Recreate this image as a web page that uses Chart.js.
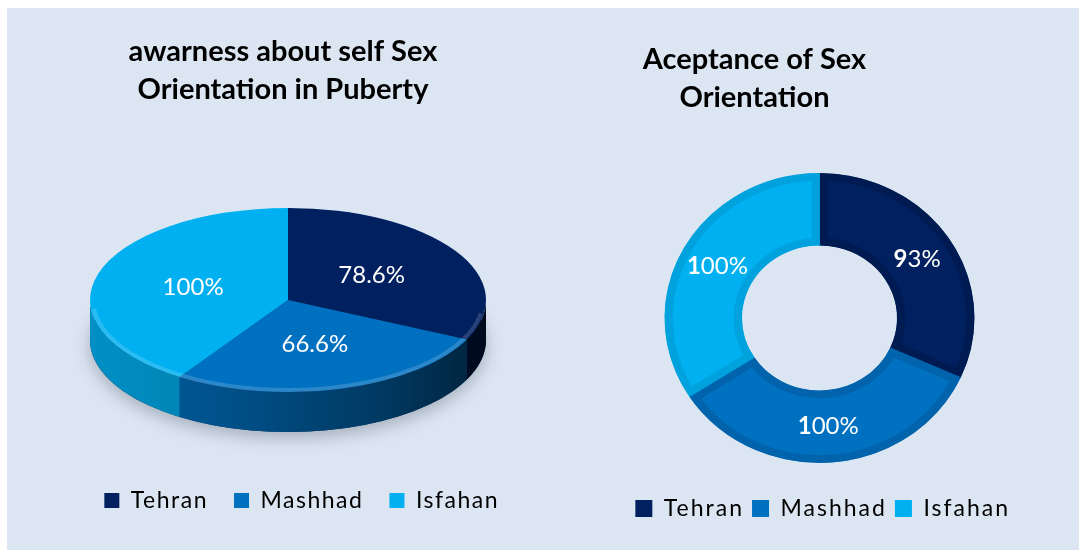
<!DOCTYPE html>
<html><head><meta charset="utf-8">
<script src="https://cdn.jsdelivr.net/npm/chart.js@4.4.1/dist/chart.umd.min.js"></script>
<style>
html,body{margin:0;padding:0;background:#fff;width:1079px;height:551px;overflow:hidden;}
#bg{position:absolute;left:7px;top:8px;width:1072px;height:542px;background:#dce6f2;}
#c1{position:absolute;left:34px;top:0;}
#c2{position:absolute;left:484px;top:0;}
</style></head><body>
<div id="bg"><canvas id="c1" width="488" height="542"></canvas><canvas id="c2" width="532" height="542"></canvas></div>
<script>
// ---- data ----
const cities = ['Tehran', 'Mashhad', 'Isfahan'];
const awarenessValues = [78.6, 66.6, 100];
const acceptanceValues = [93, 100, 100];
const awarenessTitle = ['awarness about self Sex', 'Orientation in Puberty'];
const acceptanceTitle = ['Aceptance of Sex', 'Orientation'];
// ---- styles ----
const cityColors = ['#002060', '#0070c0', '#00b0f0'];
const cityBandColors = ['#001a52', '#0063ab', '#00a2de'];

function shade(hex, f) {
  const n = parseInt(hex.slice(1), 16);
  const r = (n >> 16) & 255, g = (n >> 8) & 255, b = n & 255;
  return 'rgb(' + Math.round(r * f) + ',' + Math.round(g * f) + ',' + Math.round(b * f) + ')';
}

const tilt = {
  id: 'tilt',
  afterInit(chart, args, o) {
    const lg = chart.legend;
    if (!lg || lg._spaced) return;
    ['fit', 'draw'].forEach(m => {
      const f = lg[m];
      lg[m] = function (...a) {
        const ctx = this.ctx; const p = ctx.letterSpacing;
        ctx.letterSpacing = o.legendSpacing || '0px';
        const r = f.apply(this, a);
        ctx.letterSpacing = p || '0px';
        return r;
      };
    });
    lg._spaced = true;
  },
  beforeDatasetsDraw(chart, args, o) {
    const ctx = chart.ctx;
    const meta = chart.getDatasetMeta(0);
    const a0 = meta.data[0];
    const cx = a0.x, cy = a0.y, R = a0.outerRadius;
    const X = cx + (o.dx || 0), Y = cy + (o.dy || 0), k = o.k || 1, depth = o.depth || 0;
    if (depth > 0) {
      ctx.save();
      ctx.shadowColor = 'rgba(40,50,70,0.3)';
      ctx.shadowBlur = 16; ctx.shadowOffsetY = 6;
      ctx.fillStyle = '#1a3050';
      ctx.beginPath();
      ctx.ellipse(X, Y + depth, R, R * k, 0, 0, Math.PI * 2);
      ctx.fill();
      ctx.restore();
      ctx.save();
      meta.data.forEach((arc, i) => {
        const s = arc.startAngle, e = arc.endAngle;
        const col = cityColors[i];
        [-2 * Math.PI, 0, 2 * Math.PI].forEach(off => {
          const lo = Math.max(s, off), hi = Math.min(e, off + Math.PI);
          if (hi <= lo) return;
          const g = ctx.createLinearGradient(X - R, 0, X + R, 0);
          g.addColorStop(0, shade(col, 0.82));
          g.addColorStop(0.3, shade(col, 0.74));
          g.addColorStop(0.75, shade(col, 0.5));
          g.addColorStop(1, shade(col, 0.3));
          ctx.fillStyle = g;
          ctx.beginPath();
          ctx.ellipse(X, Y, R, R * k, 0, lo, hi, false);
          ctx.lineTo(X + R * Math.cos(hi), Y + R * k * Math.sin(hi) + depth);
          ctx.ellipse(X, Y + depth, R, R * k, 0, hi, lo, true);
          ctx.closePath();
          ctx.fill();
        });
      });
      ctx.restore();
    }
    ctx.save();
    ctx.translate(X, Y);
    ctx.scale(1, k);
    ctx.translate(-cx, -cy);
  },
  afterDatasetsDraw(chart, args, o) {
    const ctx = chart.ctx;
    ctx.restore();
    const meta = chart.getDatasetMeta(0);
    const a0 = meta.data[0];
    const X = a0.x + (o.dx || 0), Y = a0.y + (o.dy || 0), k = o.k || 1, R = a0.outerRadius;
    if ((o.depth || 0) > 0) {
      // soft bevel highlight on the front rim of the top face
      ctx.save();
      ctx.strokeStyle = 'rgba(255,255,255,0.16)';
      ctx.lineWidth = 4;
      ctx.beginPath();
      ctx.ellipse(X, Y, R - 3, R * k - 2, 0, 0.15, Math.PI * 0.97);
      ctx.stroke();
      ctx.restore();
    }
    const vals = chart.data.datasets[0].data;
    ctx.save();
    ctx.fillStyle = '#fff';
    ctx.textAlign = 'left';
    ctx.textBaseline = 'middle';
    ctx.letterSpacing = o.labelSpacing || '0px';
    meta.data.forEach((arc, i) => {
      const mid = (arc.startAngle + arc.endAngle) / 2;
      const r = arc.innerRadius + (arc.outerRadius - arc.innerRadius) * o.labelPos;
      const x = X + r * Math.cos(mid), y = Y + r * k * Math.sin(mid);
      const txt = vals[i] + '%';
      const parts = o.boldFirst ? [[txt[0], 'bold'], [txt.slice(1), 'normal']] : [[txt, 'normal']];
      let w = 0;
      parts.forEach(p => { ctx.font = p[1] + ' ' + o.fontSize + 'px Lato'; w += ctx.measureText(p[0]).width; });
      let px = x - w / 2;
      parts.forEach(p => {
        ctx.font = p[1] + ' ' + o.fontSize + 'px Lato';
        ctx.fillText(p[0], px, y);
        px += ctx.measureText(p[0]).width;
      });
    });
    ctx.restore();
  }
};

function legendLabels(chart) {
  return chart.data.labels.map((t, i) => ({
    text: t, fillStyle: cityColors[i], strokeStyle: cityColors[i], lineWidth: 0,
    hidden: false, index: i, fontColor: '#000'
  }));
}

new Chart(document.getElementById('c1'), {
  type: 'pie',
  data: {
    labels: cities,
    datasets: [{ data: awarenessValues, backgroundColor: cityColors, borderWidth: 0, clip: false, hoverOffset: 0 }]
  },
  options: {
    responsive: false, animation: false, events: [],
    radius: 198,
    layout: { padding: { bottom: 28, right: 4 } },
    plugins: {
      title: {
        display: true, text: awarenessTitle, color: '#000',
        font: { family: 'Lato', size: 29, weight: 'bold', lineHeight: 38 / 29 },
        padding: { top: 25, bottom: 0 }
      },
      legend: {
        position: 'bottom', align: 'end',
        labels: { font: { family: 'Lato', size: 23 }, color: '#000', boxWidth: 15, boxHeight: 15, padding: 26, generateLabels: legendLabels }
      },
      tooltip: { enabled: false },
      tilt: { k: 0.465, depth: 40, dx: 5, dy: 14, labelPos: 0.5, fontSize: 24, boldFirst: false, legendSpacing: '1.5px' }
    }
  },
  plugins: [tilt]
});

new Chart(document.getElementById('c2'), {
  type: 'doughnut',
  data: {
    labels: cities,
    datasets: [{ data: acceptanceValues, backgroundColor: cityColors, borderColor: cityBandColors, borderWidth: 8, borderAlign: 'inner', clip: false, hoverOffset: 0 }]
  },
  options: {
    responsive: false, animation: false, events: [],
    radius: 155, cutout: '50%',
    layout: { padding: { bottom: 20, right: 5 } },
    plugins: {
      title: {
        display: true, text: acceptanceTitle, color: '#000',
        font: { family: 'Lato', size: 29, weight: 'bold', lineHeight: 38 / 29 },
        padding: { top: 33, bottom: 0 }
      },
      legend: {
        position: 'bottom', align: 'end',
        labels: { font: { family: 'Lato', size: 23 }, color: '#000', boxWidth: 17, boxHeight: 17, padding: 8, generateLabels: legendLabels }
      },
      tooltip: { enabled: false },
      tilt: { k: 0.935, depth: 0, dx: 65, dy: 15, labelPos: 0.5, fontSize: 24, boldFirst: true, legendSpacing: '2px' }
    }
  },
  plugins: [tilt]
});
</script>
</body></html>
